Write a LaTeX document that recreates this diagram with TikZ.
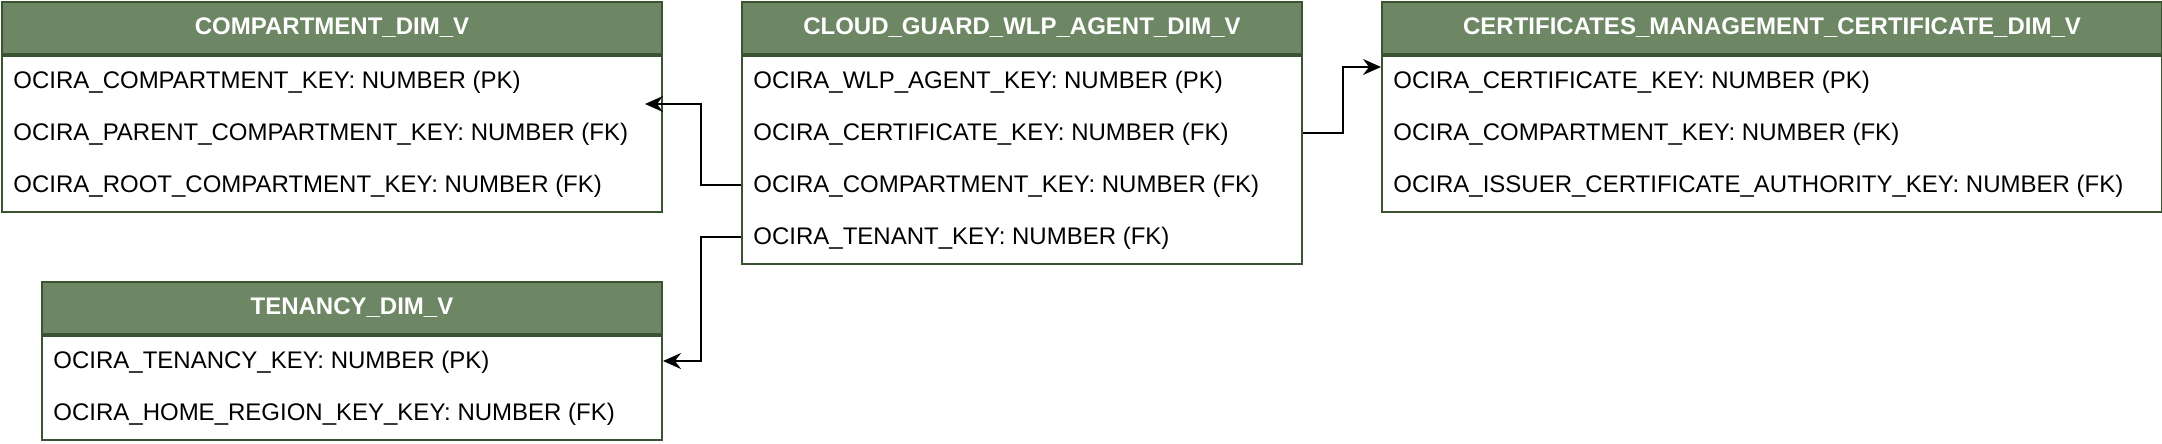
\documentclass[tikz,border=0pt]{standalone}
\usepackage{fontspec}
\setmainfont{Liberation Sans}
\usetikzlibrary{arrows.meta, positioning}
\definecolor{hdrgreen}{HTML}{6D8764}
\definecolor{hdrline}{HTML}{3A5431}
\newcommand\erfont{\fontsize{12}{14}\selectfont}
\tikzset{
    thead/.style={draw=hdrline,fill=hdrgreen,text=white,font=\erfont\bfseries,
        minimum height=26pt,inner sep=0pt,line width=1pt,anchor=north west},
    tbody/.style={draw=hdrline,fill=white,minimum height=#1,inner sep=0pt,line width=1pt},
    trow/.style={anchor=west,inner sep=0pt,text=black,font=\erfont},
    fk/.style={draw,line width=1pt,-{Stealth[length=9pt,width=8pt,inset=3pt]}},
}

\begin{document}
\begin{tikzpicture}[x=1pt,y=-1pt]
\useasboundingbox (0,0) rectangle (1081,222);
% COMPARTMENT_DIM_V
\node[thead,minimum width=330pt] (cmp) at (0.5,0.5) {COMPARTMENT\_DIM\_V};
\node[tbody=78pt,minimum width=330pt,below=0pt of cmp] (cmpb) {};
\foreach \t [count=\i] in {OCIRA\_COMPARTMENT\_KEY: NUMBER (PK),
    OCIRA\_PARENT\_COMPARTMENT\_KEY: NUMBER (FK),
    OCIRA\_ROOT\_COMPARTMENT\_KEY: NUMBER (FK)}
    \node[trow] (cmp\i) at ([xshift=6pt,yshift={12.4pt-26pt*\i}]cmpb.north west) {\t};
% TENANCY_DIM_V
\node[thead,minimum width=310pt] (tn) at (20.5,140.5) {TENANCY\_DIM\_V};
\node[tbody=52pt,minimum width=310pt,below=0pt of tn] (tnb) {};
\foreach \t [count=\i] in {OCIRA\_TENANCY\_KEY: NUMBER (PK),
    OCIRA\_HOME\_REGION\_KEY\_KEY: NUMBER (FK)}
    \node[trow] (tn\i) at ([xshift=6pt,yshift={12.4pt-26pt*\i}]tnb.north west) {\t};
% CLOUD_GUARD_WLP_AGENT_DIM_V
\node[thead,minimum width=280pt] (cld) at (370.5,0.5) {CLOUD\_GUARD\_WLP\_AGENT\_DIM\_V};
\node[tbody=104pt,minimum width=280pt,below=0pt of cld] (cldb) {};
\foreach \t [count=\i] in {OCIRA\_WLP\_AGENT\_KEY: NUMBER (PK),
    OCIRA\_CERTIFICATE\_KEY: NUMBER (FK),
    OCIRA\_COMPARTMENT\_KEY: NUMBER (FK),
    OCIRA\_TENANT\_KEY: NUMBER (FK)}
    \node[trow] (cld\i) at ([xshift=6pt,yshift={12.4pt-26pt*\i}]cldb.north west) {\t};
% CERTIFICATES_MANAGEMENT_CERTIFICATE_DIM_V
\node[thead,minimum width=390pt] (cert) at (690.5,0.5) {CERTIFICATES\_MANAGEMENT\_CERTIFICATE\_DIM\_V};
\node[tbody=78pt,minimum width=390pt,below=0pt of cert] (certb) {};
\foreach \t [count=\i] in {OCIRA\_CERTIFICATE\_KEY: NUMBER (PK),
    OCIRA\_COMPARTMENT\_KEY: NUMBER (FK),
    OCIRA\_ISSUER\_CERTIFICATE\_AUTHORITY\_KEY: NUMBER (FK)}
    \node[trow] (cert\i) at ([xshift=6pt,yshift={12.4pt-26pt*\i}]certb.north west) {\t};
% foreign keys
\coordinate (cmpin) at ([xshift=-9pt,yshift=15pt]cmpb.east);
\coordinate (certin) at ([yshift=-6pt]certb.north west);
\draw[fk] ([yshift=0.6pt]cldb.west |- cld3) -- ++(-20,0) |- (cmpin);
\draw[fk] ([yshift=0.6pt]cldb.west |- cld4) -- ++(-20,0) |- ([yshift=0.6pt]tnb.east |- tn1);
\draw[fk] ([yshift=0.6pt]cldb.east |- cld2) -- ++(20,0) |- (certin);
\end{tikzpicture}
\end{document}
